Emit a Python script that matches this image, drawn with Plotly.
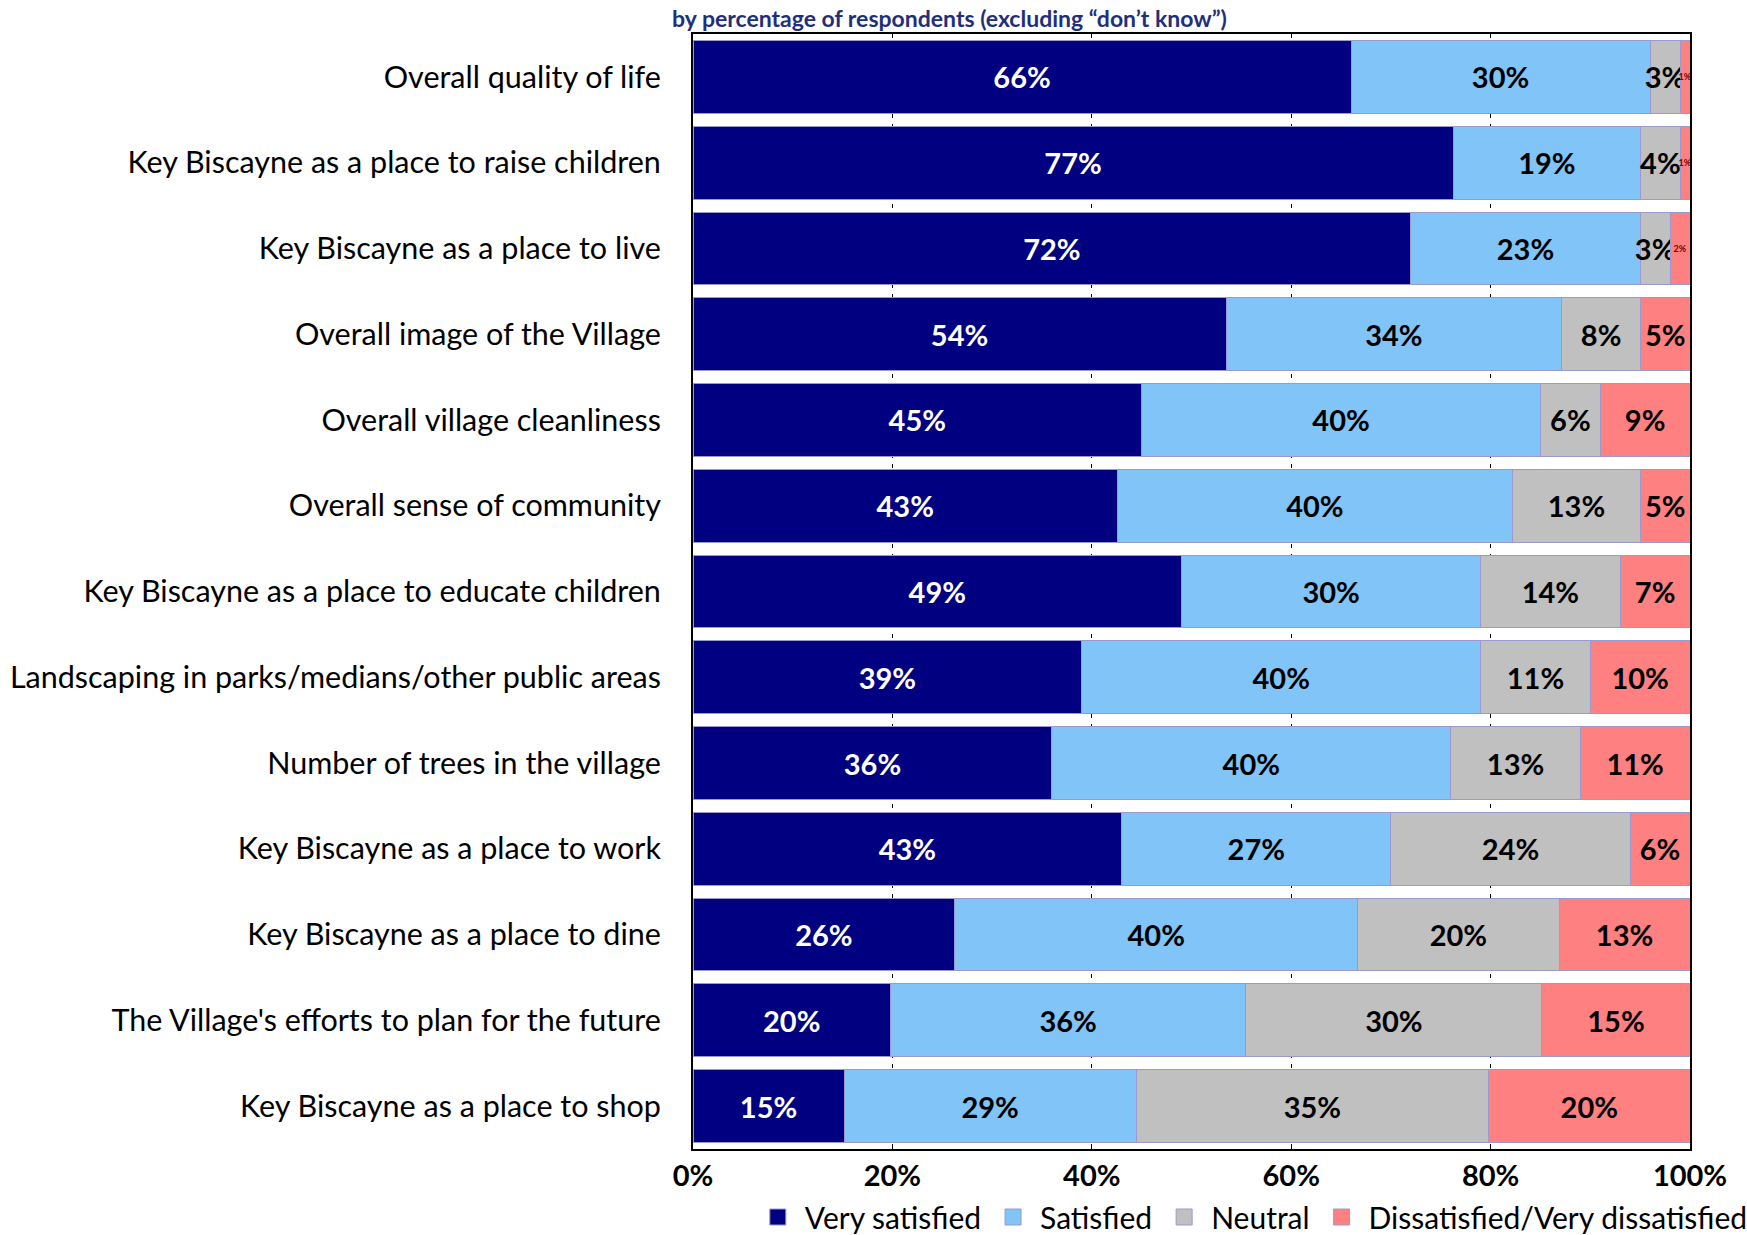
import plotly.graph_objects as go

# Survey items, listed top to bottom
items = [
    "Overall quality of life",
    "Key Biscayne as a place to raise children",
    "Key Biscayne as a place to live",
    "Overall image of the Village",
    "Overall village cleanliness",
    "Overall sense of community",
    "Key Biscayne as a place to educate children",
    "Landscaping in parks/medians/other public areas",
    "Number of trees in the village",
    "Key Biscayne as a place to work",
    "Key Biscayne as a place to dine",
    "The Village's efforts to plan for the future",
    "Key Biscayne as a place to shop",
]

very_satisfied = [66, 77, 72, 54, 45, 43, 49, 39, 36, 43, 26, 20, 15]
satisfied = [30, 19, 23, 34, 40, 40, 30, 40, 40, 27, 40, 36, 29]
neutral = [3, 4, 3, 8, 6, 13, 14, 11, 13, 24, 20, 30, 35]
dissatisfied = [1, 1, 2, 5, 9, 5, 7, 10, 11, 6, 13, 15, 20]

series_names = ["Very satisfied", "Satisfied", "Neutral", "Dissatisfied/Very dissatisfied"]
series_values = [very_satisfied, satisfied, neutral, dissatisfied]
series_colors = ["#000080", "#80C4F8", "#C0C0C0", "#FF8080"]
label_colors = ["#FFFFFF", "#000000", "#000000", "#000000"]

x_ticks = [0, 20, 40, 60, 80, 100]

FONT = "Lato"

fig = go.Figure()
for name, vals, color, lab_color in zip(series_names, series_values, series_colors, label_colors):
    sizes = [9 if v < 3 else 29 for v in vals]
    colors = ["#800000" if v < 3 else lab_color for v in vals]
    fig.add_trace(go.Bar(
        y=items,
        x=vals,
        name=name,
        orientation="h",
        marker=dict(color=color, line=dict(color="#9A9AD0", width=1)),
        text=[f"{v}%" for v in vals],
        textposition="inside",
        insidetextanchor="middle",
        constraintext="none",
        textangle=0,
        textfont=dict(family=FONT, size=sizes, color=colors, weight="bold"),
        cliponaxis=False,
        showlegend=False,
    ))

# Legend entries with large square swatches
for name, color in zip(series_names, series_colors):
    fig.add_trace(go.Scatter(
        x=[None], y=[None],
        mode="markers",
        name=name,
        marker=dict(symbol="square", size=22, color=color, line=dict(color="#9A9AD0", width=1)),
        showlegend=True,
    ))

fig.update_layout(
    barmode="stack",
    barnorm="percent",
    bargap=0.151,
    width=1747,
    height=1235,
    margin=dict(l=693, r=57, t=34, b=86, autoexpand=False),
    paper_bgcolor="white",
    plot_bgcolor="white",
    font=dict(family=FONT, size=30.5, color="#000000"),
    title=dict(
        text="by percentage of respondents (excluding “don’t know”)",
        font=dict(family=FONT, size=23, color="#1F2F7A", weight="bold"),
        x=0.5435, xanchor="center",
        y=0.985, yanchor="middle",
    ),
    legend=dict(
        orientation="h",
        x=0.058, xanchor="left",
        y=-0.061, yanchor="middle",
        font=dict(family=FONT, size=30, color="#000000"),
        itemwidth=44,
        tracegroupgap=0,
        traceorder="normal",
    ),
    xaxis=dict(
        range=[0, 100.0001],
        tickvals=x_ticks,
        ticktext=[f"{t}%" for t in x_ticks],
        tickfont=dict(family=FONT, size=29, weight="bold"),
        showgrid=True,
        gridcolor="#000000",
        gridwidth=1,
        griddash="4px,6px",
        showline=True,
        linecolor="#000000",
        linewidth=2,
        mirror=True,
        ticks="inside",
        ticklen=5,
        tickcolor="#000000",
        zeroline=False,
        fixedrange=True,
    ),
    yaxis=dict(
        autorange="reversed",
        tickfont=dict(family=FONT, size=30.5),
        showline=True,
        linecolor="#000000",
        linewidth=2,
        mirror=True,
        ticks="",
        ticklabelstandoff=24,
        showgrid=False,
        fixedrange=True,
    ),
)

fig.write_html("out.html")
